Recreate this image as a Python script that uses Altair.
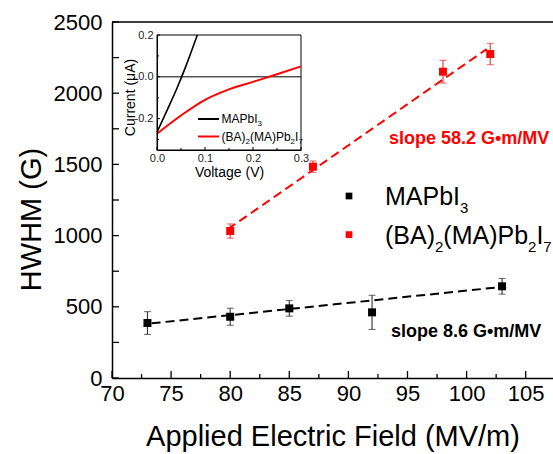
import altair as alt
import pandas as pd

FONT = "Liberation Sans"

# ---------------- main data ----------------
field_mapbi = [73, 80, 85, 92, 103]
hwhm_mapbi = [386, 430, 489, 461, 644]
err_mapbi = [80, 60, 55, 120, 55]

field_ba = [80, 87, 98, 102]
hwhm_ba = [1032, 1484, 2151, 2275]
err_ba = [50, 40, 80, 75]

fit_mapbi_x = [73.35, 102.7]
fit_mapbi_y = [384, 637]
fit_ba_x = [79.8, 101.7]
fit_ba_y = [1045, 2310]

x_ticks = [70, 75, 80, 85, 90, 95, 100, 105]
x_minor = [72.5, 77.5, 82.5, 87.5, 92.5, 97.5, 102.5]
y_ticks = [0, 500, 1000, 1500, 2000, 2500]
y_minor = [250, 750, 1250, 1750, 2250]

# legend labels as (text, is_subscript) segments
label_mapbi = [("MAPbI", False), ("3", True)]
label_ba = [("(BA)", False), ("2", True), ("(MA)Pb", False), ("2", True), ("I", False), ("7", True)]
slope_labels = ["slope 58.2 G\u2022m/MV", "slope 8.6 G\u2022m/MV"]

# ---------------- inset data ----------------
v_mapbi = [0.0, 0.02, 0.04, 0.06, 0.084]
i_mapbi = [-0.265, -0.165, -0.063, 0.05, 0.2]
v_ba = [0.0, 0.05, 0.1, 0.15, 0.2, 0.25, 0.3]
i_ba = [-0.272, -0.185, -0.11, -0.06, -0.024, 0.012, 0.05]
v_ticks = [0.0, 0.1, 0.2, 0.3]
v_minor = [0.05, 0.15, 0.25]
i_ticks = [-0.2, 0.0, 0.2]
i_minor = [-0.3, -0.1, 0.1]
V_DOM = [0.0, 0.3]
I_DOM = [-0.35, 0.2]

# ---------------- layout (pixels) ----------------
W, H = 441, 356
IN_L, IN_R, IN_T, IN_B = 45, 189, 13, 128

RED = "#ff0000"
RED_ERR = "#e03434"

# Arial / Liberation Sans advance widths (em/1000) for the legend glyphs
ADV = {"(": 333, ")": 333, "B": 667, "A": 667, "M": 833, "P": 667, "b": 556, "I": 278}


def text_width(s, size):
    return sum(ADV.get(c, 556) for c in s) * size / 1000.0


def rich_text(segments, x0, y0, size, subsize, subdy, color="black"):
    out = []
    x = x0
    for txt, sub in segments:
        fs = subsize if sub else size
        out.append(
            alt.Chart(pd.DataFrame({"t": [txt]}))
            .mark_text(font=FONT, fontSize=fs, color=color, align="left", baseline="alphabetic")
            .encode(text="t:N", x=alt.value(x), y=alt.value(y0 + (subdy if sub else 0)))
        )
        x += text_width(txt, fs)
    return out


XS = alt.Scale(domain=[70, 107.31], nice=False, zero=False)
YS = alt.Scale(domain=[0, 2500], nice=False, zero=False)

XAX = alt.Axis(values=x_ticks, ticks=False, grid=False, labelFont=FONT, labelFontSize=22,
               labelColor="black", labelPadding=5, labelFlush=False, labelOverlap=False,
               domainColor="black", domainWidth=1.5, zindex=1,
               title="Applied Electric Field (MV/m)", titleFont=FONT, titleFontSize=29,
               titleFontWeight="normal", titleColor="black", titleBaseline="alphabetic",
               titleY=67)
YAX = alt.Axis(values=y_ticks, format="d", ticks=False, grid=False, labelFont=FONT,
               labelFontSize=22, labelColor="black", labelPadding=10, labelFlush=False,
               labelOverlap=False, domainColor="black", domainWidth=1.5, zindex=1,
               title="HWHM (G)", titleFont=FONT, titleFontSize=29, titleFontWeight="normal",
               titleColor="black", titleBaseline="alphabetic", titleX=-72, titleY=197,
               titleAngle=270)


def X(f):
    return alt.X(f, type="quantitative", scale=XS, axis=XAX)


def Y(f):
    return alt.Y(f, type="quantitative", scale=YS, axis=YAX)


mapbi = pd.DataFrame({"E": field_mapbi, "H": hwhm_mapbi, "e": err_mapbi})
mapbi["lo"] = mapbi["H"] - mapbi["e"]
mapbi["hi"] = mapbi["H"] + mapbi["e"]
ba = pd.DataFrame({"E": field_ba, "H": hwhm_ba, "e": err_ba})
ba["lo"] = ba["H"] - ba["e"]
ba["hi"] = ba["H"] + ba["e"]
fit_m = pd.DataFrame({"E": fit_mapbi_x, "H": fit_mapbi_y})
fit_b = pd.DataFrame({"E": fit_ba_x, "H": fit_ba_y})

layers = []
# inward ticks
layers.append(alt.Chart(pd.DataFrame({"t": x_ticks})).mark_rule(color="black", strokeWidth=1.3)
              .encode(x=X("t"), y=alt.value(H), y2=alt.value(H - 7)))
layers.append(alt.Chart(pd.DataFrame({"t": x_minor})).mark_rule(color="black", strokeWidth=1.3)
              .encode(x=X("t"), y=alt.value(H), y2=alt.value(H - 4)))
layers.append(alt.Chart(pd.DataFrame({"t": y_ticks + y_minor})).mark_rule(color="black", strokeWidth=1.3)
              .encode(y=Y("t"), x=alt.value(0), x2=alt.value(7)))
# top frame
layers.append(alt.Chart(pd.DataFrame({"t": [0]})).mark_rule(color="black", strokeWidth=1.5)
              .encode(y=alt.value(0), x=alt.value(0), x2=alt.value(W)))

# fit lines
layers.append(alt.Chart(fit_m).mark_line(color="black", strokeWidth=2, strokeDash=[9, 5])
              .encode(x=X("E"), y=Y("H")))
layers.append(alt.Chart(fit_b).mark_line(color=RED, strokeWidth=2, strokeDash=[9, 5])
              .encode(x=X("E"), y=Y("H")))

# error bars
for df, col in ((mapbi, "#333333"), (ba, RED_ERR)):
    layers.append(alt.Chart(df).mark_rule(color=col, strokeWidth=1.1)
                  .encode(x=X("E"), y=Y("lo"), y2="hi:Q"))
    layers.append(alt.Chart(df).mark_tick(color=col, orient="horizontal", size=7, thickness=1.1)
                  .encode(x=X("E"), y=Y("lo")))
    layers.append(alt.Chart(df).mark_tick(color=col, orient="horizontal", size=7, thickness=1.1)
                  .encode(x=X("E"), y=Y("hi")))

# points
layers.append(alt.Chart(mapbi).mark_square(color="black", size=64, opacity=1)
              .encode(x=X("E"), y=Y("H")))
layers.append(alt.Chart(ba).mark_square(color=RED, size=64, opacity=1)
              .encode(x=X("E"), y=Y("H")))

# slope labels
layers.append(alt.Chart(pd.DataFrame({"t": [slope_labels[0]]}))
              .mark_text(font=FONT, fontSize=18, fontWeight="bold", color=RED, align="left",
                         baseline="alphabetic")
              .encode(text="t:N", x=alt.value(277), y=alt.value(122)))
layers.append(alt.Chart(pd.DataFrame({"t": [slope_labels[1]]}))
              .mark_text(font=FONT, fontSize=18, fontWeight="bold", color="black", align="left",
                         baseline="alphabetic")
              .encode(text="t:N", x=alt.value(279), y=alt.value(315)))

# main legend
for i, (segs, col) in enumerate(zip([label_mapbi, label_ba], ["black", RED])):
    ysq = 174 + i * 38.6
    layers.append(alt.Chart(pd.DataFrame({"t": [i]})).mark_square(color=col, size=45, opacity=1)
                  .encode(x=alt.value(237), y=alt.value(ysq)))
    layers.extend(rich_text(segs, 273, 182.5 + i * 39.5, 25, 15, 8))

main = alt.layer(*layers)

# ---------------- inset ----------------
VS = alt.Scale(domain=V_DOM, range=[IN_L, IN_R], nice=False, zero=False)
IS = alt.Scale(domain=I_DOM, range=[IN_B, IN_T], nice=False, zero=False)
VAX = alt.Axis(orient="bottom", offset=-(H - IN_B), values=v_ticks, format=".1f", ticks=False,
               grid=False, labelFont=FONT, labelFontSize=11, labelColor="#222", labelPadding=2,
               labelFlush=False, labelOverlap=False, domainColor="black", domainWidth=1, zindex=1,
               title="Voltage (V)", titleFont=FONT, titleFontSize=14, titleFontWeight="normal",
               titleColor="black", titleBaseline="alphabetic", titleY=26)
IAX = alt.Axis(orient="left", offset=-IN_L, values=i_ticks, ticks=False,
               labelExpr="datum.value < 0 ? '-' + format(-datum.value, '.1f') : format(datum.value, '.1f')",
               grid=False, labelFont=FONT, labelFontSize=11, labelColor="#222", labelPadding=4,
               labelFlush=False, labelOverlap=False, domainColor="black", domainWidth=1, zindex=1,
               title="Current (\u03bcA)", titleFont=FONT, titleFontSize=14, titleFontWeight="normal",
               titleColor="black", titleBaseline="alphabetic", titleX=-23, titleY=75,
               titleAngle=270)


def VX(f):
    return alt.X(f, type="quantitative", scale=VS, axis=VAX)


def IY(f):
    return alt.Y(f, type="quantitative", scale=IS, axis=IAX)


frame = pd.DataFrame({"v0": [V_DOM[0]], "v1": [V_DOM[1]], "i0": [I_DOM[0]], "i1": [I_DOM[1]]})
zero = pd.DataFrame({"v0": [V_DOM[0]], "v1": [V_DOM[1]], "i": [0.0]})
cur_m = pd.DataFrame({"V": v_mapbi, "I": i_mapbi})
cur_b = pd.DataFrame({"V": v_ba, "I": i_ba})

il = []
il.append(alt.Chart(frame).mark_rect(fill="white", stroke="black", strokeWidth=1)
          .encode(x=VX("v0"), x2="v1:Q", y=IY("i0"), y2="i1:Q"))
il.append(alt.Chart(zero).mark_rule(color="black", strokeWidth=1)
          .encode(x=VX("v0"), x2="v1:Q", y=IY("i")))
il.append(alt.Chart(pd.DataFrame({"t": v_ticks})).mark_rule(color="black", strokeWidth=1)
          .encode(x=VX("t"), y=alt.value(IN_B), y2=alt.value(IN_B - 3)))
il.append(alt.Chart(pd.DataFrame({"t": v_minor})).mark_rule(color="black", strokeWidth=1)
          .encode(x=VX("t"), y=alt.value(IN_B), y2=alt.value(IN_B - 2)))
il.append(alt.Chart(pd.DataFrame({"t": i_ticks})).mark_rule(color="black", strokeWidth=1)
          .encode(y=IY("t"), x=alt.value(IN_L), x2=alt.value(IN_L + 3)))
il.append(alt.Chart(pd.DataFrame({"t": i_minor})).mark_rule(color="black", strokeWidth=1)
          .encode(y=IY("t"), x=alt.value(IN_L), x2=alt.value(IN_L + 2)))
il.append(alt.Chart(cur_m).mark_line(color="black", strokeWidth=1.6, interpolate="monotone")
          .encode(x=VX("V"), y=IY("I")))
il.append(alt.Chart(cur_b).mark_line(color=RED, strokeWidth=2, interpolate="monotone")
          .encode(x=VX("V"), y=IY("I")))
for i, (segs, col) in enumerate(zip([label_mapbi, label_ba], ["black", RED])):
    yl = 97 + i * 17.5
    il.append(alt.Chart(pd.DataFrame({"t": [i]})).mark_rule(color=col, strokeWidth=2)
              .encode(x=alt.value(86), x2=alt.value(107), y=alt.value(yl)))
    il.extend(rich_text(segs, 109.5, yl + 4, 12, 8, 3))

inset = alt.layer(*il)

chart = (
    alt.layer(main, inset)
    .resolve_scale(x="independent", y="independent")
    .properties(width=W, height=H,
                padding={"left": 112, "top": 22, "right": 0, "bottom": 76},
                autosize=alt.AutoSizeParams(type="none"))
    .configure_view(strokeWidth=0)
)

chart.save("out.html", embed_options={"renderer": "svg", "actions": False})
